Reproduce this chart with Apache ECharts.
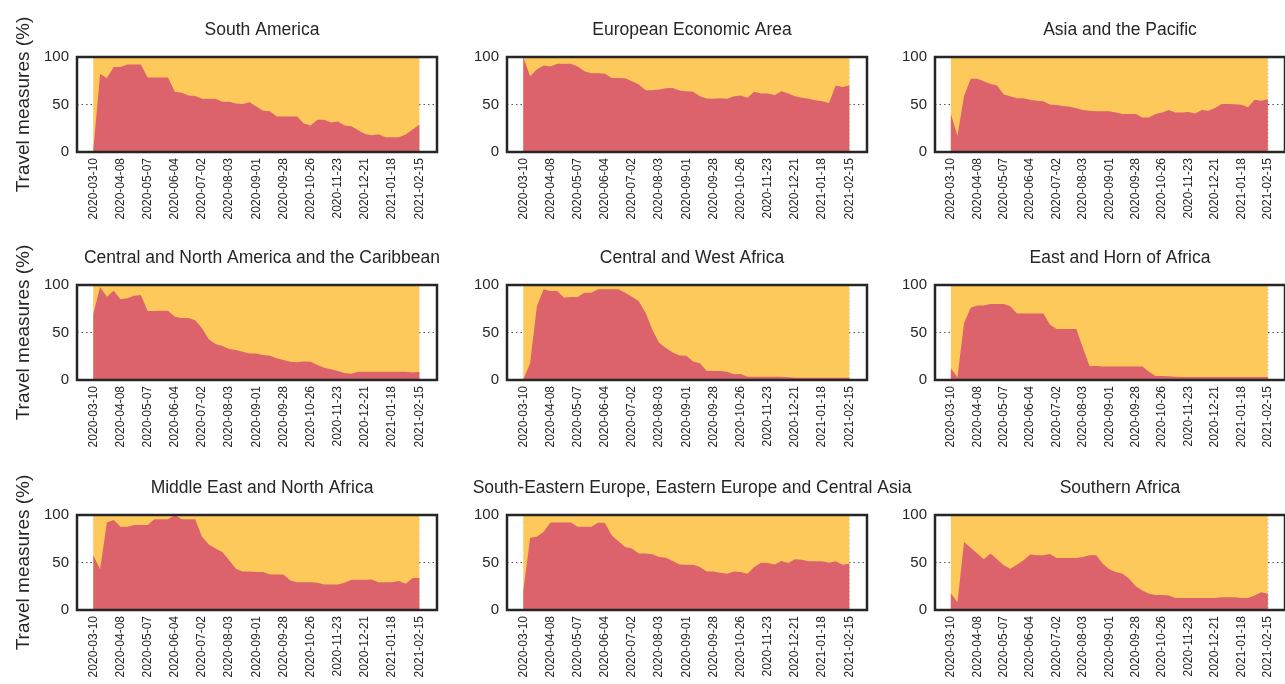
<!DOCTYPE html>
<html>
<head>
<meta charset="utf-8">
<script src="https://cdn.jsdelivr.net/npm/echarts@6/dist/echarts.min.js"></script>
<style>
html, body { margin: 0; padding: 0; background: #fff; }
#chart { width: 1285px; height: 684px; }
</style>
</head>
<body>
<div id="chart"></div>
<script>
// weekly dates, one label every 4th week
const dates = [
    '2020-03-10', '2020-03-17', '2020-03-24', '2020-03-31',
    '2020-04-08', '2020-04-15', '2020-04-22', '2020-04-29',
    '2020-05-07', '2020-05-14', '2020-05-21', '2020-05-28',
    '2020-06-04', '2020-06-11', '2020-06-18', '2020-06-25',
    '2020-07-02', '2020-07-09', '2020-07-16', '2020-07-24',
    '2020-08-03', '2020-08-10', '2020-08-17', '2020-08-24',
    '2020-09-01', '2020-09-07', '2020-09-14', '2020-09-21',
    '2020-09-28', '2020-10-05', '2020-10-12', '2020-10-19',
    '2020-10-26', '2020-11-02', '2020-11-09', '2020-11-16',
    '2020-11-23', '2020-11-30', '2020-12-07', '2020-12-14',
    '2020-12-21', '2020-12-28', '2021-01-04', '2021-01-11',
    '2021-01-18', '2021-01-25', '2021-02-01', '2021-02-08',
    '2021-02-15'
];
const labelIdx = [0, 4, 8, 12, 16, 20, 24, 28, 32, 36, 40, 44, 48];
const total = 100;

const regions = [
    'South America',
    'European Economic Area',
    'Asia and the Pacific',
    'Central and North America and the Caribbean',
    'Central and West Africa',
    'East and Horn of Africa',
    'Middle East and North Africa',
    'South-Eastern Europe, Eastern Europe and Central Asia',
    'Southern Africa'
];

// share of measures in place (%), red area; the rest up to 100 is yellow
const southAmerica = [2, 82, 78, 89.6, 89.6, 92, 92, 92, 78.5, 78.5, 78.5, 78.5, 63.5, 62.5, 59.4, 59, 56, 56, 56, 53, 53, 51, 50.5, 52.5, 48, 43.4, 43, 37.5, 37.5, 37.5, 37.5, 30, 28, 34, 34, 31, 32, 28, 27, 23, 19, 17.7, 18.7, 15.6, 15.6, 15.6, 18.4, 23.6, 28.8];
const europeanEconomicArea = [100, 79.7, 87, 91, 90, 93, 93, 93, 90, 85, 83, 83, 82.5, 78, 78, 77.6, 74.5, 71, 65, 65, 65.7, 67, 67.5, 64.7, 64, 63.3, 58.7, 56.3, 56, 56.6, 56, 58.7, 59.4, 57, 63.3, 61.5, 61.5, 60, 64, 61.5, 58.7, 57, 56, 54.5, 53.5, 51.7, 70, 68.5, 70];
const asiaPacific = [40, 17, 59, 77, 77, 74.6, 71.7, 70, 60.4, 58.7, 56.5, 56.5, 55, 54, 53.4, 50, 49.5, 48.4, 47.7, 46, 44.2, 43.5, 42.8, 42.8, 42.8, 41.7, 40, 40, 40, 36.4, 36.4, 40, 41.7, 44.2, 41.7, 41.7, 42, 40.6, 44.2, 43.5, 46.3, 50.5, 50.5, 50.2, 49.8, 47, 55, 54, 55.5];
const centralNorthAmerica = [69.5, 98, 87.7, 94, 85, 86, 88.8, 89.5, 72.6, 72.6, 73, 73, 66.7, 65.3, 65.3, 63, 54.4, 42.8, 38, 35.8, 32.6, 31.6, 29.8, 28, 28, 26.3, 25.6, 22.8, 21, 19.3, 18.6, 19.6, 19.3, 15.8, 13, 11.2, 9.5, 7.4, 6.7, 8.8, 8.8, 8.8, 8.8, 8.8, 8.8, 8.8, 8.8, 8, 8.8];
const centralWestAfrica = [0.7, 17.7, 77.7, 95.4, 93.6, 93.6, 86.6, 87.3, 87.3, 91.9, 91.9, 95.4, 95.4, 95.4, 95.4, 91.9, 87.6, 83, 70.7, 53, 38.9, 33.6, 29, 25.8, 25.4, 19.4, 17.7, 9.5, 9.5, 9.5, 8.8, 6, 6.4, 3.5, 3.5, 3.5, 3.5, 3.5, 3.5, 2.8, 2.5, 2.5, 2.5, 2.5, 2.5, 2.5, 2.5, 2.5, 2.5];
const eastHornAfrica = [12.4, 2.8, 60, 76, 78.4, 78.4, 80, 80, 80, 77.7, 70, 70, 70, 70, 70, 58.3, 53.7, 53.7, 53.7, 53.7, 33.6, 14.8, 14.8, 14.1, 14.1, 14.1, 14.1, 14.1, 14.1, 14.1, 8.8, 4.2, 4.2, 3.9, 3.5, 3.2, 3.2, 3.2, 3.2, 3.2, 3.2, 3.2, 3.2, 3.2, 3.2, 3.2, 3.2, 3.2, 3.2];
const middleEastNorthAfrica = [57.6, 42.8, 92.2, 94.7, 87.6, 87.6, 89.4, 89.4, 89.4, 95.4, 95.4, 95.4, 100, 95.4, 95.4, 95.4, 77, 69, 64.7, 61, 52.3, 43.5, 40.6, 40.6, 40, 40, 37.5, 37.5, 37.5, 31, 29.3, 29.3, 29.3, 28.6, 26.9, 26.9, 26.9, 28.6, 31.8, 31.8, 31.8, 32.2, 29.3, 29.3, 29.3, 30.4, 27.6, 33.6, 33.6];
const easternEuropeCentralAsia = [20, 76, 77, 82.3, 92.2, 92.2, 92.2, 92.2, 87.6, 87.6, 87.6, 91.9, 91.9, 78.8, 72.4, 66.4, 64.7, 59.4, 59.4, 58.7, 55.8, 55.1, 51.6, 48, 47.7, 47.7, 45.2, 40.6, 40.6, 39.2, 38.2, 40.6, 40, 38.2, 45.2, 49.8, 49.5, 48, 51.6, 49.5, 53.4, 53, 51.2, 51.2, 51.2, 49.8, 51.2, 47.7, 48.8];
const southernAfrica = [17.7, 8.1, 71.7, 65.4, 59.4, 53.4, 59.4, 53.4, 47, 43.5, 47.7, 52.3, 58.3, 57.6, 57.6, 59, 54.8, 54.8, 54.8, 54.8, 55.8, 57.6, 57.6, 48.8, 42.8, 40, 38.2, 32.9, 25.1, 20.5, 17, 15.9, 15.9, 15.2, 12.7, 12.7, 12.7, 12.7, 12.7, 12.7, 12.7, 13.4, 13.4, 13.4, 12.7, 12.7, 15.2, 18.7, 17];

const regionData = [
    southAmerica, europeanEconomicArea, asiaPacific,
    centralNorthAmerica, centralWestAfrica, eastHornAfrica,
    middleEastNorthAfrica, easternEuropeCentralAsia, southernAfrica
];

const chart = echarts.init(document.getElementById('chart'));

const FONT = '"Liberation Sans", Arial, sans-serif';
const TEXT = '#262626';
const RED = '#dc636b';
const YELLOW = '#fec95b';

const colLeft = [77, 507, 935];
const rowTop = [57, 285, 515];
const gridW = 360;
const gridH = 95;

const grids = [], xAxes = [], yAxes = [], titles = [], series = [];

regions.forEach(function (name, i) {
    const row = Math.floor(i / 3);
    const col = i % 3;
    grids.push({
        left: colLeft[col], top: rowTop[row], width: gridW, height: gridH,
        show: true, z: 10,
        backgroundColor: 'transparent',
        borderColor: TEXT, borderWidth: 2.5
    });
    titles.push({
        text: name,
        left: colLeft[col] + gridW / 2,
        top: rowTop[row] - 41,
        textAlign: 'center',
        textStyle: { fontFamily: FONT, fontSize: 17.5, fontWeight: 'normal', color: TEXT }
    });
    xAxes.push({
        type: 'value', gridIndex: i,
        min: -2.4, max: 50.6,
        z: 3,
        axisLine: { show: false },
        axisTick: { show: false, customValues: labelIdx },
        axisLabel: {
            customValues: labelIdx,
            rotate: 90, margin: 6,
            fontFamily: FONT, fontSize: 12, color: TEXT,
            formatter: function (v) { return dates[v]; }
        },
        splitLine: { show: true, lineStyle: { type: [1, 3], color: 'rgba(60,60,60,0.25)', width: 1 } }
    });
    yAxes.push({
        type: 'value', gridIndex: i,
        min: 0, max: 100, interval: 50,
        axisLine: { show: false },
        axisTick: { show: false },
        axisLabel: { fontFamily: FONT, fontSize: 15, color: TEXT, margin: 8 },
        splitLine: { show: true, lineStyle: { type: [1.5, 3], color: '#555', width: 1.2 } },
        name: col === 0 ? 'Travel measures (%)' : '',
        nameLocation: 'middle',
        nameGap: 44,
        nameTextStyle: { fontFamily: FONT, fontSize: 19, color: TEXT }
    });
    const vals = regionData[i];
    // yellow: full 100 % band behind, red measures drawn on top
    series.push({
        type: 'line', xAxisIndex: i, yAxisIndex: i,
        symbol: 'none', silent: true,
        lineStyle: { width: 0 },
        areaStyle: { color: YELLOW, opacity: 1 },
        data: vals.map(function (v, k) { return [k, total]; })
    });
    series.push({
        type: 'line', xAxisIndex: i, yAxisIndex: i,
        symbol: 'none', silent: true,
        lineStyle: { width: 0 },
        areaStyle: { color: RED, opacity: 1 },
        data: vals.map(function (v, k) { return [k, v]; })
    });
});

const option = {
    animation: false,
    backgroundColor: '#ffffff',
    title: titles,
    grid: grids,
    xAxis: xAxes,
    yAxis: yAxes,
    series: series
};

option && chart.setOption(option);
</script>
</body>
</html>
